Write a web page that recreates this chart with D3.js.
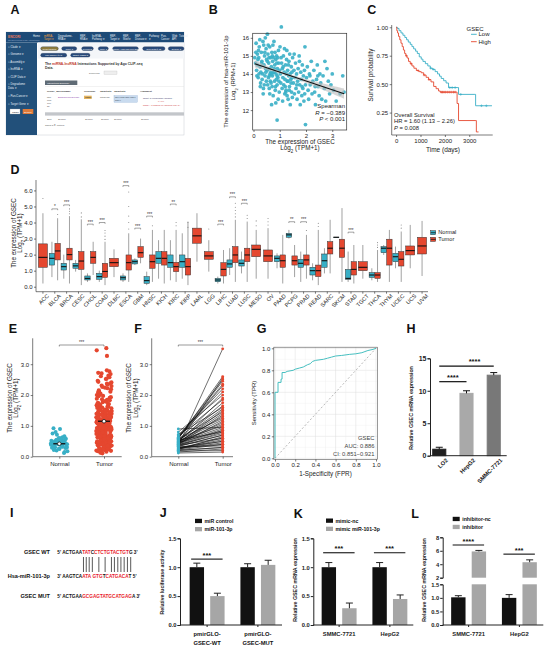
<!DOCTYPE html>
<html><head><meta charset="utf-8">
<script src="https://cdn.jsdelivr.net/npm/d3@7"></script>
<style>
body{margin:0;background:#fff;}
svg{display:block;font-family:"Liberation Sans",Arial,sans-serif;}
</style></head><body>
<svg id="c" width="550" height="649"></svg>
<script>
// ===================== DATA =====================
// Panel B scatter: [GSEC log2(TPM+1), miR-101-3p log2(RPM+1)]
const scatterB = [[0.08,14.6],[0.1,15.7],[0.12,14.2],[0.15,15.1],[0.18,13.8],[0.2,14.9],[0.22,15.5],[0.25,14.4],[0.27,13.5],[0.3,15.2],[0.32,14.7],[0.35,14.0],[0.36,15.8],[0.38,13.2],[0.4,14.5],[0.42,15.0],[0.44,13.9],[0.46,14.3],[0.48,15.4],[0.5,14.8],[0.15,14.5],[0.05,14.9],[0.28,14.1],[0.33,13.7],[0.24,15.9],[0.41,13.4],[0.47,14.1],[0.19,15.3],[0.13,13.9],[0.39,15.6],[0.45,16.0],[0.53,16.2],[0.09,15.2],[0.21,14.0],[0.31,14.6],[0.37,12.9],[0.43,15.2],[0.26,13.3],[0.49,13.6],[0.17,14.8],
[0.52,14.2],[0.55,15.1],[0.57,13.8],[0.58,14.6],[0.6,13.2],[0.62,15.5],[0.63,14.0],[0.65,14.9],[0.67,13.5],[0.68,14.4],[0.7,15.2],[0.72,13.9],[0.73,14.7],[0.75,12.8],[0.76,14.1],[0.78,15.8],[0.8,13.6],[0.81,14.5],[0.83,13.1],[0.85,14.8],[0.86,14.0],[0.88,15.0],[0.9,13.4],[0.91,14.3],[0.93,13.8],[0.95,15.3],[0.96,14.6],[0.98,13.0],[0.99,14.2],[0.54,13.4],[0.59,14.9],[0.64,13.6],[0.69,12.3],[0.74,15.6],[0.79,14.3],[0.84,13.3],[0.89,14.6],[0.94,12.6],[0.56,15.6],[0.61,14.3],[0.66,14.1],[0.71,13.3],[0.77,14.9],[0.82,15.2],[0.87,13.7],[0.92,14.9],[0.97,13.6],[0.53,14.7],[0.6,13.9],[0.7,14.0],[0.8,14.1],[0.9,13.9],[0.62,12.9],[0.72,15.0],[0.85,12.4],[0.9,11.45],
[1.02,14.0],[1.04,13.5],[1.06,16.6],[1.07,14.6],[1.09,13.2],[1.1,14.3],[1.12,13.8],[1.14,15.0],[1.15,13.4],[1.17,14.1],[1.19,12.9],[1.2,13.7],[1.22,14.5],[1.24,13.1],[1.25,14.0],[1.27,15.3],[1.29,13.6],[1.3,14.2],[1.32,12.6],[1.34,13.9],[1.35,14.7],[1.37,13.3],[1.39,14.0],[1.4,12.3],[1.42,13.7],[1.44,14.4],[1.45,13.0],[1.47,13.8],[1.49,14.9],[1.05,14.9],[1.11,12.5],[1.18,15.4],[1.23,13.0],[1.28,12.8],[1.33,14.5],[1.38,15.1],[1.43,13.5],[1.48,12.7],[1.13,14.4],[1.26,14.8],[1.36,13.1],[1.46,14.1],[1.01,15.5],[1.21,13.3],[1.31,13.6],
[1.52,13.5],[1.54,14.2],[1.56,12.9],[1.58,13.8],[1.6,14.6],[1.62,13.2],[1.64,14.0],[1.66,12.6],[1.68,13.6],[1.7,14.3],[1.72,13.0],[1.74,15.0],[1.76,13.4],[1.78,12.3],[1.8,14.1],[1.82,13.7],[1.84,12.8],[1.86,14.5],[1.88,13.2],[1.9,13.9],[1.92,12.5],[1.94,14.2],[1.96,15.5],[1.98,13.4],[1.98,11.2],[1.55,15.1],[1.65,13.4],[1.75,14.7],[1.85,13.3],[1.95,12.9],
[2.02,13.8],[2.05,14.4],[2.08,13.1],[2.1,12.6],[2.13,14.0],[2.16,13.4],[2.2,14.7],[2.23,12.9],[2.26,13.6],[2.3,14.2],[2.33,13.0],[2.36,12.3],[2.4,13.7],[2.43,14.5],[2.46,13.3],[2.5,12.8],[2.53,14.0],[2.56,13.5],[2.6,12.6],[2.15,13.9],[2.35,13.3],[2.45,13.9],
[2.65,13.9],[2.7,13.2],[2.75,12.5],[2.8,14.3],[2.85,13.6],[2.9,12.9],[2.95,13.4],[3.0,14.0],[3.05,13.1],[3.15,12.5],[3.3,12.9],[3.4,13.9],[3.45,13.0],[2.72,14.7]];
const fitB = [[0.05,14.56],[3.45,12.91]];          // regression line ends
const ciB = [[0.05,0.2],[0.6,0.09],[1.2,0.06],[2.0,0.1],[2.8,0.19],[3.45,0.28]]; // half-width of band
const statsB = ["Spearman", "R = \u22120.389", "P < 0.001"];

// Panel C Kaplan-Meier steps [days, survival]
const kmLow = [[0,1],[50,0.99],[120,0.97],[200,0.95],[280,0.93],[360,0.91],[430,0.89],[500,0.87],[580,0.85],[650,0.83],[720,0.81],[800,0.79],[870,0.77],[950,0.74],[1030,0.72],[1100,0.70],[1200,0.68],[1300,0.66],[1400,0.64],[1500,0.63],[1600,0.61],[1700,0.59],[1780,0.57],[1850,0.55],[1950,0.53],[2050,0.51],[2150,0.47],[2500,0.47],[2560,0.41],[3230,0.41],[3260,0.31],[3930,0.31]];
const kmHigh = [[0,1],[30,0.97],[60,0.95],[100,0.92],[150,0.89],[200,0.86],[250,0.83],[300,0.80],[350,0.77],[400,0.75],[450,0.73],[510,0.70],[580,0.68],[650,0.66],[730,0.64],[830,0.62],[930,0.61],[1030,0.60],[1130,0.58],[1230,0.56],[1330,0.54],[1430,0.52],[1540,0.48],[1640,0.46],[1740,0.44],[1810,0.43],[2480,0.43],[2500,0.33],[2560,0.18],[3270,0.18],[3290,0.08],[3380,0.08]];
const censLow = [1420,1520,2200,2300,2420,2650,3500,3700];
const censHigh = [420,620,900,1150,1350,1850,1900,1960,2020,2100,2180,2260,2350,2420];
const statsC = ["Overall Survival","HR = 1.60 (1.13 \u2212 2.26)","P = 0.008"];

// Panel D: TCGA pan-cancer boxplots [min, q1, median, q3, max]
const cats = ['ACC','BLCA','BRCA','CESC','CHOL','COAD','DLBC','ESCA','GBM','HNSC','KICH','KIRC','KIRP','LAML','LGG','LIHC','LUAD','LUSC','MESO','OV','PAAD','PCPG','PRAD','READ','SARC','SKCM','STAD','TGCT','THCA','THYM','UCEC','UCS','UVM'];
const normalBox = [null,[0.6,1.35,1.77,2.08,2.8],[0.5,1.04,1.25,1.46,2.0],[0.94,1.15,1.3,1.46,1.67],[0.3,0.42,0.52,0.67,0.83],[0.3,0.46,0.63,0.83,1.0],null,[0.3,0.42,0.56,0.67,0.83],[1.35,1.42,1.56,1.67,1.77],[0.1,0.21,0.38,0.63,0.94],[0.5,1.46,1.77,2.19,2.9],[0.4,1.21,1.5,1.98,2.9],[0.5,1.21,1.56,1.98,3.33],null,null,[0.2,0.31,0.42,0.52,0.63],[0.73,1.21,1.42,1.67,2.4],[0.83,1.29,1.46,1.67,2.19],null,null,[1.15,1.56,1.77,1.92,2.08],[3.0,3.08,3.23,3.33,3.54],[0.3,1.21,1.46,1.71,2.19],[0.4,0.73,1.0,1.21,1.46],[0.83,1.21,1.62,2.04,2.4],[3.07,3.07,3.08,3.09,3.09],[0.3,0.46,0.52,1.08,2.19],null,[0.4,0.58,0.73,0.88,1.15],[1.98,2.12,2.4,2.5,2.6],[1.15,1.56,1.87,2.08,2.5],null,null];
const tumorBox = [[0.2,1.21,1.83,2.67,4.58],[0.4,1.67,2.23,2.7,4.27],[0.2,1.67,2.0,2.4,4.4],[0.1,1.08,1.6,2.19,4.2],[0.73,1.46,1.83,2.19,2.8],[0.1,0.58,0.95,1.46,2.8],[0.6,1.25,1.5,1.77,2.33],[0.3,1.04,1.5,1.98,3.33],[1.46,1.83,2.12,2.5,3.0],[0.3,1.15,1.56,1.98,3.54],[0.2,1.35,1.77,2.19,3.54],[0.3,0.94,1.25,1.52,3.54],[0.1,0.73,1.25,1.77,4.06],[1.56,2.71,3.17,3.65,4.58],[0.94,1.71,1.92,2.19,2.9],[0.2,0.67,1.08,1.5,2.29],[0.3,1.5,1.98,2.5,4.17],[0.3,1.56,1.98,2.4,4.06],[0.5,1.87,2.33,2.6,3.54],[0.5,1.56,1.92,2.29,3.65],[0.2,1.21,1.62,1.98,3.23],[0.6,1.35,1.62,1.92,2.6],[0.5,1.35,1.67,1.98,3.23],[0.1,0.63,1.0,1.35,3.54],[0.83,2.04,2.4,2.81,4.17],[0.3,1.83,2.4,2.96,4.9],[0.2,0.73,1.08,1.56,2.6],[0.5,1.0,1.21,1.56,2.6],[0.3,0.52,0.73,0.88,2.29],[0.3,1.35,2.4,2.96,3.54],[0.3,1.29,1.71,2.19,3.44],[1.15,1.98,2.25,2.54,3.85],[0.67,2.04,2.54,3.08,4.1]];
const tumorOut = [[5.5],[4.5],[4.55,4.7,4.85],[4.35,4.6],[],[2.95,3.15,3.35,3.5],[],[3.6,4.0,4.4,5.0,5.9],[],[3.8],[],[3.8,4.0],[3.7,4.0],[],[3.6],[],[4.35,4.55,4.75,4.95,5.2],[4.25,4.45],[3.8,4.1],[3.85,4.05,4.25],[],[],[3.5],[3.75,3.95],[],[],[],[],[2.45,2.6,2.75],[],[3.65,3.85],[],[]];
const sigD = ['','*','***','','***','***','','***','***','***','','**','','','','***','***','***','','','','**','***','','','','***','','','','','',''];
const sigH = [0,4.85,5.1,0,3.9,4.0,0,6.3,3.65,4.4,0,5.15,0,0,0,3.9,5.6,5.2,0,0,0,4.05,4.05,0,0,0,3.4,0,0,0,0,0,0];

// Panel E: normal vs tumor GSEC
const normalE = [0.42,0.35,0.5,0.28,0.61,0.44,0.38,0.55,0.3,0.47,0.22,0.66,0.4,0.52,0.33,0.45,0.58,0.25,0.37,0.49,0.71,0.18,0.43,0.36,0.54,0.41,0.29,0.63,0.46,0.34,0.9,0.92,0.12,0.48,0.39,0.57,0.31,0.44,0.27,0.75,0.5,0.2,0.4,0.6,0.35,0.15,0.53,0.45,0.32,0.8];
const tumorE = [0.15,0.62,1.34,0.28,0.91,1.77,0.45,1.12,2.05,0.33,0.78,1.46,0.57,1.03,2.41,0.21,0.69,1.25,0.84,1.58,0.39,1.19,2.68,0.52,0.97,1.63,0.11,0.74,1.38,0.88,1.91,0.43,1.07,2.22,0.66,1.29,0.31,0.95,1.71,0.58,1.15,2.53,0.25,0.81,1.42,0.49,1.01,1.86,0.36,0.72,1.21,2.77,0.6,1.09,1.52,0.18,0.86,1.33,2.12,0.47,0.99,1.67,0.29,0.76,1.24,0.55,1.41,2.34,0.4,0.93,1.8,0.64,1.17,0.23,0.83,1.49,2.61,0.51,1.05,1.96,0.34,0.7,1.28,0.9,1.55,0.44,1.13,2.46,0.61,1.36,0.19,0.79,1.6,0.53,1.02,2.0,0.38,0.87,1.31,0.67,1.74,0.27,1.1,2.29,0.48,0.96,1.45,0.73,1.22,3.27,0.14,0.63,1.19,2.15,0.42,0.85,1.39,0.57,1.06,1.83,0.32,0.77,1.27,2.7,0.5,1.0,1.54,0.24,0.89,1.65,0.46,1.14,2.38,0.68,1.35,0.37,0.82,1.48,0.59,1.08,2.58,0.3,0.75,1.2,0.94,1.93,0.41,1.16,0.65,1.43,3.45,3.52,0.13,0.71,1.3,2.08,0.54,0.98,1.57,0.26,0.8,1.37,0.49,1.11,2.8,0.62,1.26,0.35,0.92,1.7,2.26,0.2,1.04,1.5,
0.58,1.23,0.37,1.62,0.81,2.19,0.46,1.08,0.29,1.47,0.93,1.78,0.52,1.16,0.68,2.43,0.34,1.01,1.39,0.77,2.02,0.45,1.29,0.63,1.84,0.22,0.97,1.53,0.71,2.63,0.41,1.12,0.86,1.68,0.55,1.34,0.18,1.05,2.31,0.66,1.44,0.38,0.9,1.97,0.5,1.18,0.74,2.11,0.31,1.27,0.6,1.59,0.83,2.52,0.43,1.07,0.95,1.74,0.27,1.36,0.69,2.24,0.48,1.14,0.79,1.88,0.16,1.0,1.42,0.57,2.72,0.35,1.21,0.88,1.51,0.64,1.31,0.24,1.09,2.37];
const meanE = [0.42, 1.15];

// Panel F: paired samples
const normalF = [0.35,0.42,0.28,0.55,0.6,0.2,0.48,0.38,0.7,0.25,0.52,0.45,0.33,0.65,0.15,0.4,0.58,0.3,0.5,0.44,0.22,0.62,0.36,0.47,0.8,0.27,0.53,0.41,0.18,0.68,0.39,0.56,0.32,0.46,0.12,0.6,0.43,0.24,0.51,0.37,0.72,0.29,0.49,0.34,0.9,0.57,0.21,0.45,0.63,0.4,0.26,0.54];
const tumorF = [3.5,2.55,0.6,1.9,2.45,0.3,1.2,0.85,2.2,0.45,1.55,0.95,0.7,2.1,0.25,1.35,2.6,0.5,1.75,1.05,0.4,2.35,0.8,1.4,2.0,0.55,1.65,0.9,0.2,1.85,0.75,1.25,0.35,1.1,0.15,2.3,1.5,0.65,1.0,0.6,1.6,0.4,1.3,0.7,0.95,1.45,0.3,0.85,2.5,1.15,0.5,0.8];
const groupsEF = ['Normal','Tumor'];

// Panel G: ROC [FPR, TPR]
const roc = [[0,0],[0,0.6],[0.03,0.6],[0.03,0.69],[0.06,0.69],[0.06,0.72],[0.07,0.72],[0.07,0.78],[0.1,0.78],[0.12,0.79],[0.18,0.8],[0.2,0.81],[0.24,0.82],[0.28,0.83],[0.32,0.85],[0.35,0.86],[0.37,0.88],[0.4,0.89],[0.48,0.9],[0.52,0.91],[0.56,0.92],[0.6,0.93],[0.66,0.935],[0.74,0.945],[0.8,0.95],[0.86,0.96],[0.92,0.98],[0.97,0.99],[1,1]];
const statsG = ["GSEC","AUC: 0.886","CI: 0.851\u22120.921"];

// Panel H: cell lines
const cellsH = ['LO2','HepG2','SMMC-7721'];
const valH = [1.0, 9.6, 12.4];
const errH = [0.3, 0.4, 0.4];
const colH = ['#1f1f1f','#a9a9a9','#787878'];
const sigHbar = [[0,1,11.4,'****'],[0,2,13.8,'****']];

// Panel I sequences
const seqLabels = ['GSEC WT','Hsa-miR-101-3p','GSEC MUT'];
const seqParts = [
  [["5' ACTGAA",'k'],['TAT','r'],['C','k'],['CTCT','r'],['GTACTGT','r'],["G 3'",'k']],
  [["3' AAGTCA",'k'],['ATA','r'],[' ','k'],['GTG','r'],['T','k'],['CATGACA','r'],["T 5'",'k']],
  [["5' ACTGAA",'k'],['GCGAGTATGCATGAG','r'],["A 3'",'k']]
];
const pairIdx = [9,10,11,12,14,16,18,19,20,21,22,23,24];

// Panel J
const groupsJ = ['WT','MUT'];
const groupLabJ = [['pmirGLO-','GSEC-WT'],['pmirGLO-','GSEC-MUT']];
const seriesJ = ['miR control','miR-101-3p'];
const valJ = [[1.0,0.5],[1.0,1.04]];
const errJ = [[0.07,0.05],[0.06,0.08]];
const sigJ = [[0,1.14,'***']];

// Panel K
const groupsK = ['SMMC-7721','HepG2'];
const seriesK = ['mimic-nc','mimic miR-101-3p'];
const valK = [[1.0,0.29],[1.0,0.45]];
const errK = [[0.08,0.09],[0.08,0.07]];
const sigK = [[0,1.25,'***'],[1,1.25,'***']];

// Panel L
const groupsL = ['SMMC-7721','HepG2'];
const seriesL = ['inhibitor-nc','inhibitor'];
const valL = [[1.02,5.9],[1.0,4.3]];
const errL = [[0.06,0.15],[0.12,0.35]];
const sigL = [[0,6.85,'****'],[1,5.5,'***']];

// ===================== DRAW =====================
const svg = d3.select('#c');
const TEAL = '#38AFC6', RED = '#E5472F', INK = '#222';

function letter(t,x,y){ svg.append('text').attr('x',x).attr('y',y+4.3).attr('font-size',12.5).attr('font-weight','bold').attr('text-anchor','middle').attr('fill','#111').text(t); }
[['A',15,10],['B',213.3,10],['C',371.7,10],['D',15,169.3],['E',13,328.3],['F',138,328.3],['G',261.7,328.3],['H',411,328.3],['I',11.7,513],['J',163.3,513],['K',298.3,513.3],['L',415,513.3]].forEach(d=>letter(...d));

function styleAxis(g, fs, bold, sw){
  g.selectAll('text').attr('font-size',fs).attr('fill',INK).attr('font-weight',bold?'bold':null);
  g.selectAll('path,line').attr('stroke',INK).attr('stroke-width',sw||0.6);
}
function rotLabel(g,x,y,lines,fs,bold){
  return g.append('text').attr('transform',`translate(${x},${y}) rotate(-90)`).attr('text-anchor','middle').attr('font-size',fs).attr('fill',INK).attr('font-weight',bold?'bold':null);
}
const LOG2T = 'Log<tspan baseline-shift="sub" font-size="70%">2</tspan> (TPM+1)';
const LOG2R = 'Log<tspan baseline-shift="sub" font-size="70%">2</tspan> (RPM+1)';
const fInt = d3.format('d');

// ---------- Panel A (database screenshot mock) ----------
(function(){
  const g = svg.append('g');
  g.append('rect').attr('x',6).attr('y',32).attr('width',178).attr('height',103).attr('fill','#fff').attr('stroke','#c8ccd2').attr('stroke-width',0.5);
  g.append('rect').attr('x',6).attr('y',32).attr('width',178).attr('height',10.5).attr('fill','#1d4a77');
  g.append('text').attr('x',8).attr('y',37.5).attr('font-size',3.2).attr('font-weight','bold').attr('fill','#ef7b5b').text('ENCORI');
  g.append('text').attr('x',8).attr('y',40.5).attr('font-size',1.8).attr('fill','#9fb6cf').text('The Encyclopedia of RNA Interactomes');
  const nav=[['Home',''],['miRNA-','Target ▾'],['Degradome-','RNA ▾'],['RBP-','RNA ▾'],['lncRNA-','Pathway ▾'],['RBP-','Target ▾'],['RBP-','Motif ▾'],['RBP-','Disease ▾'],['Pathway','▾'],['Pan-','Cancer'],['Web','API'],['Tutorial','']];
  const nx=[33,44,58,80,92,110,123,135,149,161,172,179];
  nav.forEach((n,i)=>{ const c = i===1?'#f3a33a':'#e8eef5';
    g.append('text').attr('x',nx[i]).attr('y',36.7).attr('font-size',2.6).attr('fill',c).text(n[0]);
    g.append('text').attr('x',nx[i]).attr('y',40.3).attr('font-size',2.6).attr('fill',c).text(n[1]); });
  g.append('rect').attr('x',6).attr('y',42.5).attr('width',31).attr('height',92.5).attr('fill','#22507a');
  const side=[['○ Clade ▾',47.3],['○ Genome ▾',54.3],['○ Assembly ▾',61.7],['○ lncRNA ▾',69.3],['○ CLIP Data ▾',77.3],['○ Degradome',84.3],['  Data ▾',88.3],['○ Pan-Cancer ▾',96],['○ Target Gene ▾',104]];
  side.forEach(s=>g.append('text').attr('x',8).attr('y',s[1]+1).attr('font-size',2.8).attr('fill','#e6edf5').text(s[0]));
  g.append('rect').attr('x',10).attr('y',109).attr('width',10).attr('height',5).attr('fill','#fff').attr('stroke','#999').attr('stroke-width',0.3);
  g.append('text').attr('x',12).attr('y',112.6).attr('font-size',2.4).attr('fill','#333').text('GSEC');
  g.append('rect').attr('x',22.7).attr('y',109).attr('width',10.6).attr('height',5).attr('fill','#e07b39');
  g.append('text').attr('x',24).attr('y',112.6).attr('font-size',2.4).attr('fill','#fff').text('Search');
  g.append('rect').attr('x',38).attr('y',42.5).attr('width',146).attr('height',16).attr('fill','#f4f6f9');
  const pills=[[40.7,58.3,46.7,'#8d7b3e','Reset Search'],[61.7,76.7,46.7,'#294a7a','Clade ▾'],[81.7,93.3,46.7,'#294a7a','Genome ▾'],[98.3,108.3,46.7,'#294a7a','hg19 ▾'],[112.7,138.3,46.7,'#294a7a','lncRNA: hsa-miR-101-3p ▾'],[142.7,165,46.7,'#294a7a','CLIP Data ≥ 1 ▾'],[168.3,184,46.7,'#294a7a','Degrad ▾'],[40.7,66.7,53.3,'#294a7a','pan-Cancer ≥ 0 ▾'],[70.7,90,53.3,'#294a7a','Target: GSEC ▾']];
  pills.forEach(p=>{ g.append('rect').attr('x',p[0]).attr('y',p[2]).attr('width',p[1]-p[0]).attr('height',3.8).attr('rx',1.9).attr('fill',p[3]).attr('stroke','#1a2f4f').attr('stroke-width',0.3);
    g.append('text').attr('x',(p[0]+p[1])/2).attr('y',p[2]+2.8).attr('text-anchor','middle').attr('font-size',2.2).attr('fill','#fff').text(p[4]); });
  const t1 = g.append('text').attr('x',45).attr('y',64.5).attr('font-size',3.4).attr('font-weight','bold').attr('fill','#333');
  t1.append('tspan').text('The ');
  t1.append('tspan').attr('fill','#c0392b').text('miRNA-lncRNA');
  t1.append('tspan').text(' Interactions Supported by Ago CLIP-seq');
  g.append('text').attr('x',45).attr('y',69).attr('font-size',3.4).attr('font-weight','bold').attr('fill','#333').text('Data.');
  g.append('text').attr('x',89).attr('y',73.5).attr('font-size',2.4).attr('fill','#666').text('Download');
  g.append('rect').attr('x',104).attr('y',71).attr('width',13).attr('height',3.4).attr('fill','#eee').attr('stroke','#bbb').attr('stroke-width',0.3);
  g.append('rect').attr('x',45).attr('y',80.5).attr('width',32.3).attr('height',4.5).attr('fill','#5f6b75');
  g.append('text').attr('x',47).attr('y',83.7).attr('font-size',2.3).attr('fill','#fff').text('Interactions Summary');
  g.append('line').attr('x1',45).attr('x2',184).attr('y1',86.5).attr('y2',86.5).attr('stroke','#ddd').attr('stroke-width',0.4);
  [['ceRNA_ID',47],['GeneName',58],['GeneType',84],['TargetSite',100],['TargetSite',114],['Alignment',140]].forEach(h=>g.append('text').attr('x',h[1]).attr('y',92).attr('font-size',2.4).attr('font-weight','bold').attr('fill','#333').text(h[0]));
  ['hsa-','miR-','101-','3p'].forEach((s,i)=>g.append('text').attr('x',47).attr('y',97.5+i*3.2).attr('font-size',2.3).attr('fill','#555').text(s));
  g.append('text').attr('x',58).attr('y',98).attr('font-size',2.4).attr('fill','#8e44ad').text('ENSG00000240859');
  g.append('rect').attr('x',84).attr('y',95.7).attr('width',7.7).attr('height',3.3).attr('fill','#e3b35f');
  g.append('text').attr('x',85).attr('y',98.2).attr('font-size',2.3).attr('fill','#333').text('GSEC');
  g.append('text').attr('x',100).attr('y',98).attr('font-size',2.3).attr('fill','#555').text('antisense');
  g.append('rect').attr('x',114).attr('y',95.7).attr('width',23.3).attr('height',6.5).attr('fill','#c9dbef').attr('stroke','#7ea3cc').attr('stroke-width',0.3);
  g.append('text').attr('x',115).attr('y',98.3).attr('font-size',2.1).attr('fill','#234').text('chrX:40174190-40174');
  g.append('text').attr('x',115).attr('y',101).attr('font-size',2.1).attr('fill','#234').text('196[+]');
  g.append('text').attr('x',143).attr('y',98.5).attr('font-size',2.1).attr('fill','#336').text('Target: 5\' ucugucaGUACUGUa...');
  g.append('text').attr('x',158).attr('y',102).attr('font-size',2.1).attr('fill','#c33').text('||| :||||||');
  g.append('text').attr('x',143).attr('y',105.5).attr('font-size',2.1).attr('fill','#c33').text('miRNA : 3\' aagucaAUAGUGUCAUGAC...');
  g.append('rect').attr('x',45).attr('y',112.3).attr('width',139).attr('height',3.3).attr('fill','#c3c6ca');
  [['Sort',47],['Search',58],['Search',85],['Search',101],['Search',114],['Search',141]].forEach(h=>g.append('text').attr('x',h[1]).attr('y',120).attr('font-size',2.4).attr('fill','#555').text(h[0]));
  g.append('text').attr('x',45).attr('y',125.5).attr('font-size',2.5).attr('fill','#555').text('Show  5  \u25BE  entries');
})();

// ---------- Panel B ----------
(function(){
  const g = svg.append('g');
  const x = d3.scaleLinear().domain([-0.03,3.55]).range([252.7,346.7]);
  const y = d3.scaleLinear().domain([10.9,16.25]).range([130,33.3]);
  const band = ciB.map(d=>{ const yc = fitB[0][1] + (fitB[1][1]-fitB[0][1])*(d[0]-fitB[0][0])/(fitB[1][0]-fitB[0][0]); return [d[0], yc-d[1], yc+d[1]]; });
  g.selectAll('circle').data(scatterB).join('circle').attr('cx',d=>x(d[0])).attr('cy',d=>y(d[1])).attr('r',1.9).attr('fill',TEAL).attr('opacity',0.9);
  g.append('path').datum(band).attr('d', d3.area().x(d=>x(d[0])).y0(d=>y(d[1])).y1(d=>y(d[2])).curve(d3.curveBasis)).attr('fill','#bbb').attr('opacity',0.6);
  g.append('line').attr('x1',x(fitB[0][0])).attr('y1',y(fitB[0][1])).attr('x2',x(fitB[1][0])).attr('y2',y(fitB[1][1])).attr('stroke','#111').attr('stroke-width',1.1);
  g.append('rect').attr('x',252.7).attr('y',33.3).attr('width',94).attr('height',96.7).attr('fill','none').attr('stroke','#333').attr('stroke-width',0.7);
  const ax = g.append('g').attr('transform','translate(252.7,0)').call(d3.axisLeft(y).tickValues([12,13,14,15,16]).tickFormat(fInt).tickSize(2).tickPadding(1.5));
  ax.select('.domain').remove(); styleAxis(ax,6);
  const bx = g.append('g').attr('transform','translate(0,130)').call(d3.axisBottom(x).tickValues([0,1,2,3]).tickFormat(fInt).tickSize(2).tickPadding(1.5));
  bx.select('.domain').remove(); styleAxis(bx,6);
  const ty=[108,114.6,121.2];
  statsB.forEach((s,i)=>{ const t=g.append('text').attr('x',345).attr('y',ty[i]).attr('text-anchor','end').attr('font-size',6).attr('fill',INK);
    if(i===0) t.text(s); else { t.append('tspan').attr('font-style','italic').text(s[0]); t.append('tspan').text(s.slice(1)); } });
  rotLabel(g,228,81.5,null,6).text('The expression of hsa-miR-101-3p');
  rotLabel(g,234.5,81.5,null,6).html(LOG2R);
  g.append('text').attr('x',300).attr('y',143.8).attr('text-anchor','middle').attr('font-size',6.3).attr('fill',INK).text('The expression of GSEC');
  g.append('text').attr('x',300).attr('y',150.3).attr('text-anchor','middle').attr('font-size',6.3).attr('fill',INK).html(LOG2T);
})();

// ---------- Panel C ----------
(function(){
  const g = svg.append('g');
  const x = d3.scaleLinear().domain([-180,3960]).range([391.7,492.7]);
  const y = d3.scaleLinear().domain([0.053,1.02]).range([135,25]);
  const line = d3.line().x(d=>x(d[0])).y(d=>y(d[1])).curve(d3.curveStepAfter);
  const bis = d3.bisector(d=>d[0]).right;
  [[kmLow,censLow,TEAL],[kmHigh,censHigh,RED]].forEach(([km,cens,col])=>{
    g.append('path').datum(km).attr('d',line).attr('fill','none').attr('stroke',col).attr('stroke-width',0.9);
    cens.forEach(t=>{ const s = km[Math.max(0,bis(km,t)-1)][1]; const cx=x(t), cy=y(s);
      g.append('path').attr('d',`M${cx-1.3},${cy}H${cx+1.3}M${cx},${cy-1.3}V${cy+1.3}`).attr('stroke',col).attr('stroke-width',0.6); });
  });
  const ax = g.append('g').attr('transform','translate(391.7,0)').call(d3.axisLeft(y).tickValues([0.25,0.5,0.75,1]).tickFormat(d3.format('.2f')).tickSize(2).tickPadding(1.5));
  ax.select('.domain').attr('d','M0,25V135'); styleAxis(ax,6);
  const bx = g.append('g').attr('transform','translate(0,135)').call(d3.axisBottom(x).tickValues([0,1000,2000,3000]).tickFormat(fInt).tickSize(2).tickPadding(1.5));
  bx.select('.domain').attr('d','M391.7,0H492.7'); styleAxis(bx,6);
  g.append('text').attr('x',466.5).attr('y',30.5).attr('font-size',6).attr('fill',INK).text('GSEC');
  [['Low',TEAL,34.3],['High',RED,41.7]].forEach(l=>{
    g.append('line').attr('x1',471).attr('x2',476.7).attr('y1',l[2]).attr('y2',l[2]).attr('stroke',l[1]).attr('stroke-width',0.9);
    g.append('text').attr('x',478.5).attr('y',l[2]+2.1).attr('font-size',6).attr('fill',INK).text(l[0]); });
  const sy=[117,123.4,129.7];
  statsC.forEach((s,i)=>{ const t=g.append('text').attr('x',394).attr('y',sy[i]).attr('font-size',5.8).attr('fill',INK);
    if(i===2){ t.append('tspan').attr('font-style','italic').text('P'); t.append('tspan').text(s.slice(1)); } else t.text(s); });
  rotLabel(g,373,75,null,6.3).text('Survival probability');
  g.append('text').attr('x',443).attr('y',152).attr('text-anchor','middle').attr('font-size',6.5).attr('fill',INK).text('Time (days)');
})();

// ---------- Panel D ----------
(function(){
  const g = svg.append('g');
  const x = d3.scaleBand().domain(cats).range([37,428]);
  const y = d3.scaleLinear().domain([-0.31,6.65]).range([291.7,180]);
  const bw = x.bandwidth();
  function box(cx,w,b,col){
    g.append('line').attr('x1',cx).attr('x2',cx).attr('y1',y(b[0])).attr('y2',y(b[1])).attr('stroke','#444').attr('stroke-width',0.5);
    g.append('line').attr('x1',cx).attr('x2',cx).attr('y1',y(b[3])).attr('y2',y(b[4])).attr('stroke','#444').attr('stroke-width',0.5);
    g.append('rect').attr('x',cx-w/2).attr('y',y(b[3])).attr('width',w).attr('height',Math.max(0.6,y(b[1])-y(b[3]))).attr('fill',col).attr('stroke','#333').attr('stroke-width',0.5);
    g.append('line').attr('x1',cx-w/2).attr('x2',cx+w/2).attr('y1',y(b[2])).attr('y2',y(b[2])).attr('stroke','#111').attr('stroke-width',1.1);
  }
  cats.forEach((c,i)=>{
    const cx = x(c)+bw/2, n=normalBox[i], t=tumorBox[i];
    if(n && t){ box(cx-2.85,5.4,n,TEAL); box(cx+2.85,5.4,t,RED);
      tumorOut[i].forEach(v=>g.append('circle').attr('cx',cx+2.85).attr('cy',y(v)).attr('r',0.55).attr('fill','#888'));
    } else if(t){ box(cx,9,t,RED);
      tumorOut[i].forEach(v=>g.append('circle').attr('cx',cx).attr('cy',y(v)).attr('r',0.55).attr('fill','#888'));
    }
    if(sigD[i]){ const yy=y(sigH[i]);
      g.append('path').attr('d',`M${cx-2.9},${yy+1.3}V${yy}H${cx+2.9}V${yy+1.3}`).attr('fill','none').attr('stroke','#333').attr('stroke-width',0.45);
      g.append('text').attr('x',cx).attr('y',yy-0.5).attr('text-anchor','middle').attr('font-size',4.5).attr('fill','#333').text(sigD[i]); }
  });
  const ax = g.append('g').attr('transform','translate(36,0)').call(d3.axisLeft(y).tickValues([0,1,2,3,4,5,6]).tickSize(2).tickPadding(1.5));
  ax.select('.domain').attr('d','M0,180V291.7'); styleAxis(ax,6);
  const bx = g.append('g').attr('transform','translate(0,291.7)').call(d3.axisBottom(x).tickSize(2).tickSizeOuter(0).tickPadding(1));
  bx.select('.domain').attr('d','M36,0H428'); styleAxis(bx,5.6);
  bx.selectAll('text').attr('text-anchor','end').attr('transform','translate(2.5,0) rotate(-45)').attr('dy','0.55em').attr('dx','-0.1em');
  rotLabel(g,15.5,233,null,6.3).text('The expression of GSEC');
  rotLabel(g,21.5,233,null,6.3).html(LOG2T);
  [['Normal',TEAL,230.7],['Tumor',RED,237.4]].forEach(l=>{
    g.append('rect').attr('x',430.7).attr('y',l[2]).attr('width',5).attr('height',4).attr('fill',l[1]).attr('stroke','#333').attr('stroke-width',0.5);
    g.append('line').attr('x1',430.7).attr('x2',435.7).attr('y1',l[2]+2).attr('y2',l[2]+2).attr('stroke','#111').attr('stroke-width',0.7);
    g.append('text').attr('x',438.3).attr('y',l[2]+3.6).attr('font-size',5.6).attr('fill',INK).text(l[0]); });
})();

// ---------- Panels E & F ----------
const jit = i => ((i*0.6180339887)%1) - 0.5;
function efFrame(g, x0, x1, xs, ylab1x){
  const y = d3.scaleLinear().domain([0,3.84]).range([456.7,338.3]);
  const ax = g.append('g').attr('transform',`translate(${x0},0)`).call(d3.axisLeft(y).tickValues([0,1,2,3]).tickSize(2).tickPadding(1.5));
  ax.select('.domain').attr('d','M0,338.3V456.7'); styleAxis(ax,6);
  const bx = g.append('g').attr('transform','translate(0,456.7)').call(d3.axisBottom(xs).tickSize(2).tickPadding(3));
  bx.select('.domain').attr('d',`M${x0},0H${x1}`); styleAxis(bx,6);
  rotLabel(g,ylab1x,398,null,6.3).text('The expression of GSEC');
  rotLabel(g,ylab1x+6.5,398,null,6.3).html(LOG2T);
  const a=xs('Normal'), b=xs('Tumor'), yy=345;
  g.append('path').attr('d',`M${a},${yy+1.5}V${yy}H${b}V${yy+1.5}`).attr('fill','none').attr('stroke','#333').attr('stroke-width',0.5);
  g.append('text').attr('x',(a+b)/2).attr('y',yy-1).attr('text-anchor','middle').attr('font-size',4.5).attr('fill','#333').text('***');
  return y;
}
(function(){
  const g = svg.append('g');
  const xs = d3.scalePoint().domain(groupsEF).range([59.3,104]);
  const y = efFrame(g,32.7,121.7,xs,11.5);
  normalE.forEach((v,i)=>g.append('circle').attr('cx',xs('Normal')+jit(i)*17).attr('cy',y(v)).attr('r',2).attr('fill',TEAL));
  tumorE.forEach((v,i)=>g.append('circle').attr('cx',xs('Tumor')+jit(i+7)*15.5).attr('cy',y(v)).attr('r',2.1).attr('fill',RED));
  groupsEF.forEach((k,i)=>{ const cx=xs(k), cy=y(meanE[i]);
    g.append('line').attr('x1',cx-6).attr('x2',cx+6).attr('y1',cy).attr('y2',cy).attr('stroke','#111').attr('stroke-width',1.3);
    g.append('circle').attr('cx',cx).attr('cy',cy).attr('r',1.8).attr('fill','#fff').attr('stroke','#111').attr('stroke-width',0.7); });
})();
(function(){
  const g = svg.append('g');
  const xs = d3.scalePoint().domain(groupsEF).range([178.3,222.7]);
  const y = efFrame(g,151.7,233,xs,131);
  const n = Math.min(normalF.length,tumorF.length);
  for(let i=0;i<n;i++) g.append('line').attr('x1',xs('Normal')).attr('x2',xs('Tumor')).attr('y1',y(normalF[i])).attr('y2',y(tumorF[i])).attr('stroke','#111').attr('stroke-width',0.6);
  for(let i=0;i<n;i++){ g.append('circle').attr('cx',xs('Normal')).attr('cy',y(normalF[i])).attr('r',1.4).attr('fill',TEAL);
    g.append('circle').attr('cx',xs('Tumor')).attr('cy',y(tumorF[i])).attr('r',1.4).attr('fill',RED); }
})();

// ---------- Panel G ----------
(function(){
  const g = svg.append('g');
  const x = d3.scaleLinear().domain([0,1]).range([275,376]);
  const y = d3.scaleLinear().domain([0,1]).range([458.3,348.3]);
  const L=273.8, R=377.3, T=347.2, B=459.5;
  g.append('rect').attr('x',L).attr('y',T).attr('width',R-L).attr('height',B-T).attr('fill','#fff');
  d3.range(0,1.001,0.1).forEach((v,i)=>{ const major = i%2===0;
    g.append('line').attr('x1',x(v)).attr('x2',x(v)).attr('y1',T).attr('y2',B).attr('stroke',major?'#dcdcdc':'#eeeeee').attr('stroke-width',major?0.5:0.4);
    g.append('line').attr('y1',y(v)).attr('y2',y(v)).attr('x1',L).attr('x2',R).attr('stroke',major?'#dcdcdc':'#eeeeee').attr('stroke-width',major?0.5:0.4); });
  g.append('line').attr('x1',x(0)).attr('y1',y(0)).attr('x2',x(1)).attr('y2',y(1)).attr('stroke','#9a9a9a').attr('stroke-width',0.7).attr('stroke-dasharray','2,2');
  g.append('path').datum(roc).attr('d',d3.line().x(d=>x(d[0])).y(d=>y(d[1]))).attr('fill','none').attr('stroke','#46BFC0').attr('stroke-width',1);
  g.append('rect').attr('x',L).attr('y',T).attr('width',R-L).attr('height',B-T).attr('fill','none').attr('stroke','#555').attr('stroke-width',0.6);
  const f = d3.format('.1f');
  const ax = g.append('g').attr('transform',`translate(${L},0)`).call(d3.axisLeft(y).ticks(5).tickFormat(f).tickSize(2).tickPadding(1.5));
  ax.select('.domain').remove(); styleAxis(ax,6);
  const bx = g.append('g').attr('transform',`translate(0,${B})`).call(d3.axisBottom(x).ticks(5).tickFormat(f).tickSize(2).tickPadding(1.5));
  bx.select('.domain').remove(); styleAxis(bx,6);
  [437.9,446.2,454.3].forEach((yy,i)=>g.append('text').attr('x',374.5).attr('y',yy+2).attr('text-anchor','end').attr('font-size',5.8).attr('fill','#444').text(statsG[i]));
  rotLabel(g,256,403,null,6).text('Sensitivity (TPR)');
  g.append('text').attr('x',325.5).attr('y',475.5).attr('text-anchor','middle').attr('font-size',6.3).attr('fill',INK).text('1-Specificity (FPR)');
})();

// ---------- Panel H ----------
(function(){
  const g = svg.append('g');
  const x = d3.scaleBand().domain(cellsH).range([430,503]).paddingInner(0.52).paddingOuter(0.1);
  const y = d3.scaleLinear().domain([0,15]).range([455.7,358.3]);
  cellsH.forEach((c,i)=>{ const x0=x(c), w=x.bandwidth(), cx=x0+w/2;
    g.append('rect').attr('x',x0).attr('y',y(valH[i])).attr('width',w).attr('height',y(0)-y(valH[i])).attr('fill',colH[i]).attr('stroke',colH[i]);
    const ye=y(valH[i]+errH[i]);
    g.append('path').attr('d',`M${cx},${y(valH[i])}V${ye}M${cx-3.5},${ye}H${cx+3.5}`).attr('stroke','#111').attr('stroke-width',1).attr('fill','none'); });
  sigHbar.forEach(s=>{ const a=x(cellsH[s[0]])+x.bandwidth()/2, b=x(cellsH[s[1]])+x.bandwidth()/2, yy=y(s[2]);
    g.append('line').attr('x1',a).attr('x2',b).attr('y1',yy).attr('y2',yy).attr('stroke','#111').attr('stroke-width',1.2);
    g.append('text').attr('x',(a+b)/2+ (s[1]===1?0:8)).attr('y',yy-1.8).attr('text-anchor','middle').attr('font-size',7.5).attr('font-weight','bold').attr('fill','#111').text(s[3]); });
  const ax = g.append('g').attr('transform','translate(430,0)').call(d3.axisLeft(y).tickValues([0,5,10,15]).tickSize(2.5).tickPadding(1));
  styleAxis(ax,7,true,1);
  const bx = g.append('g').attr('transform','translate(0,455.7)').call(d3.axisBottom(x).tickSize(0).tickPadding(3));
  bx.select('.domain').attr('d','M430,0H506.7'); styleAxis(bx,5.8,true,1);
  bx.selectAll('text').attr('text-anchor','end').attr('transform','translate(4,0) rotate(-45)').attr('dy','0.7em');
  rotLabel(g,413,408,null,5.3,true).text('Relative GSEC mRNA expression');
})();

// ---------- Panel I ----------
(function(){
  const g = svg.append('g');
  const ys=[553.5,577.5,598];
  const SX = 0.84, X0 = 57.3;
  const els=[];
  seqLabels.forEach((l,i)=>{
    g.append('text').attr('x',50).attr('y',ys[i]).attr('text-anchor','end').attr('font-size',5.6).attr('font-weight','bold').attr('fill','#111').text(l);
    const t = g.append('g').attr('transform',`translate(${X0},${ys[i]}) scale(${SX},1)`).append('text').attr('x',0).attr('y',0).attr('font-size',5.6).attr('font-weight','bold');
    seqParts[i].forEach(p=>t.append('tspan').attr('fill',p[1]==='r'?'#e8202a':'#111').text(p[0]));
    els.push(t.node());
  });
  const wt = els[0];
  pairIdx.forEach(k=>{ let xx;
    try{ const a=wt.getStartPositionOfChar(k).x, b=wt.getEndPositionOfChar(k).x; xx=X0+SX*(a+b)/2; }catch(e){ xx=X0+(k+0.5)*92/28; }
    g.append('line').attr('x1',xx).attr('x2',xx).attr('y1',557).attr('y2',572).attr('stroke','#111').attr('stroke-width',0.7); });
})();

// ---------- Prism-style grouped bars (J, K, L) ----------
function legend(g,x,y0,dy,names){
  names.forEach((n,i)=>{ g.append('rect').attr('x',x).attr('y',y0+i*dy).attr('width',7).attr('height',4.3).attr('fill',i?'#a6a6a6':'#111');
    g.append('text').attr('x',x+9.5).attr('y',y0+i*dy+4).attr('font-size',5.2).attr('font-weight','bold').attr('fill','#111').text(n); });
}
function groupedX(groups,range){
  const x0 = d3.scaleBand().domain(groups).range(range).paddingInner(0.15).paddingOuter(0.05);
  const x1 = d3.scaleBand().domain([0,1]).range([0,x0.bandwidth()]).paddingInner(0.3).paddingOuter(0.2);
  return [x0,x1];
}
function errBar(g,cx,y0,y1,col){
  g.append('path').attr('d',`M${cx},${y0}V${y1}M${cx-3.5},${y1}H${cx+3.5}`).attr('stroke',col).attr('stroke-width',1).attr('fill','none');
}
function bars(g,groups,x0,x1,vals,errs,y,split){
  groups.forEach((gr,i)=>[0,1].forEach(s=>{
    const v=vals[i][s], e=errs[i][s], bx=x0(gr)+x1(s), w=x1.bandwidth(), col=s?'#a6a6a6':'#111', cx=bx+w/2;
    if(split && v>split.top){
      g.append('rect').attr('x',bx).attr('y',split.lo(split.loMax)).attr('width',w).attr('height',split.lo(0)-split.lo(split.loMax)).attr('fill',col);
      g.append('rect').attr('x',bx).attr('y',split.hi(v)).attr('width',w).attr('height',split.hi(split.top)-split.hi(v)).attr('fill',col);
      errBar(g,cx,split.hi(v),split.hi(v+e),'#222');
    } else {
      g.append('rect').attr('x',bx).attr('y',y(v)).attr('width',w).attr('height',y(0)-y(v)).attr('fill',col);
      errBar(g,cx,y(v),y(v+e),'#222');
    }
  }));
}
function sigLine(g,x0,x1,gr,yy,txt){
  const a=x0(gr)+x1(0)+1.5, b=x0(gr)+x1(1)+x1.bandwidth()-2;
  g.append('line').attr('x1',a).attr('x2',b).attr('y1',yy).attr('y2',yy).attr('stroke','#111').attr('stroke-width',1.1);
  g.append('text').attr('x',(a+b)/2).attr('y',yy-1.5).attr('text-anchor','middle').attr('font-size',7.5).attr('font-weight','bold').attr('fill','#111').text(txt);
}
function xAxisGroups(g,x0,blank,xa,xb){
  const bx = g.append('g').attr('transform','translate(0,625)').call(d3.axisBottom(x0).tickSize(2).tickPadding(5).tickFormat(d=>blank?'':d));
  bx.select('.domain').attr('d',`M${xa},0H${xb}`); styleAxis(bx,5.8,true,1);
  return bx;
}
// J
(function(){
  const g = svg.append('g');
  const y = d3.scaleLinear().domain([0,1.5]).range([625,538.3]);
  const [x0,x1] = groupedX(groupsJ,[183,282]);
  bars(g,groupsJ,x0,x1,valJ,errJ,y);
  sigJ.forEach(s=>sigLine(g,x0,x1,groupsJ[s[0]],y(s[1]),s[2]));
  const ax = g.append('g').attr('transform','translate(180,0)').call(d3.axisLeft(y).tickValues([0,0.5,1,1.5]).tickFormat(d3.format('.1f')).tickSize(2.5).tickPadding(1));
  styleAxis(ax,5.8,true,1);
  xAxisGroups(g,x0,true,180,282);
  groupsJ.forEach((gr,i)=>{ const cx=x0(gr)+x0.bandwidth()/2;
    groupLabJ[i].forEach((t,k)=>g.append('text').attr('x',cx).attr('y',636+k*9.3).attr('text-anchor','middle').attr('font-size',5.8).attr('font-weight','bold').attr('fill','#111').text(t)); });
  legend(g,195,518.8,8.2,seriesJ);
  rotLabel(g,164,582,null,5.2,true).text('Relative luciferase  activity');
})();
// K
(function(){
  const g = svg.append('g');
  const y = d3.scaleLinear().domain([0,1.5]).range([625,538.3]);
  const [x0,x1] = groupedX(groupsK,[315,414]);
  bars(g,groupsK,x0,x1,valK,errK,y);
  sigK.forEach(s=>sigLine(g,x0,x1,groupsK[s[0]],y(s[1]),s[2]));
  const ax = g.append('g').attr('transform','translate(313.3,0)').call(d3.axisLeft(y).tickValues([0,0.5,1,1.5]).tickFormat(d3.format('.1f')).tickSize(2.5).tickPadding(1));
  styleAxis(ax,5.8,true,1);
  xAxisGroups(g,x0,false,313.3,413.3);
  legend(g,326,518.5,8.2,seriesK);
  rotLabel(g,297,580,null,5.3,true).text('Relative GSEC mRNA expression');
})();
// L (broken axis)
(function(){
  const g = svg.append('g');
  const lo = d3.scaleLinear().domain([0,1.5]).range([625,584.3]);
  const hi = d3.scaleLinear().domain([2,8]).range([577.7,537.3]);
  const [x0,x1] = groupedX(groupsL,[444.5,543.5]);
  bars(g,groupsL,x0,x1,valL,errL,lo,{top:2,loMax:1.5,lo:lo,hi:hi});
  sigL.forEach(s=>sigLine(g,x0,x1,groupsL[s[0]],hi(s[1]),s[2]));
  const a1 = g.append('g').attr('transform','translate(442.7,0)').call(d3.axisLeft(lo).tickValues([0,0.5,1,1.5]).tickFormat(d3.format('.1f')).tickSize(2.5).tickPadding(1));
  styleAxis(a1,5.8,true,1);
  const a2 = g.append('g').attr('transform','translate(442.7,0)').call(d3.axisLeft(hi).tickValues([2,4,6,8]).tickFormat(fInt).tickSize(2.5).tickPadding(1));
  styleAxis(a2,5.8,true,1);
  xAxisGroups(g,x0,false,442.7,543.3);
  legend(g,452.7,516.8,8,seriesL);
  rotLabel(g,426,580,null,5.3,true).text('Relative GSEC mRNA expression');
})();
</script></body></html>
